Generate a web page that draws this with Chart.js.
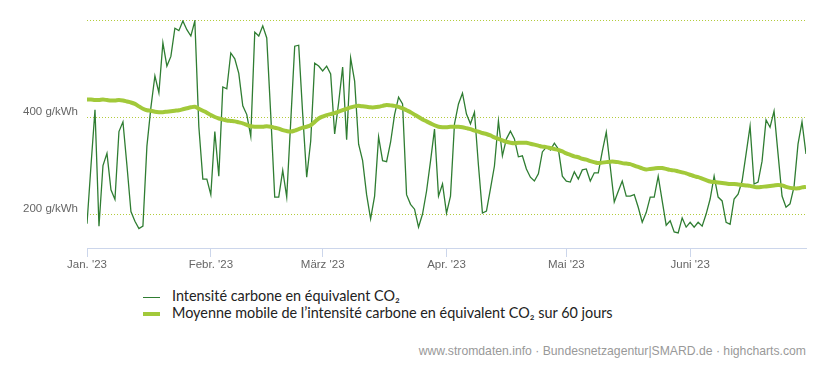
<!DOCTYPE html>
<html>
<head>
<meta charset="utf-8">
<script src="https://cdn.jsdelivr.net/npm/chart.js@4"></script>
<style>
  body { margin: 0; background: #fff; }
  #wrap { position: relative; width: 825px; height: 365px; }
  #graph { position: absolute; left: 0; top: 0; }
  #legend { position: absolute; left: 143px; top: 287px; font-family: Lato, sans-serif; font-size: 14.4px; color: #222; }
  .item { height: 17px; line-height: 17px; white-space: nowrap; }
  .sym { display: inline-block; width: 17px; vertical-align: middle; margin-right: 12px; }
  #credits { position: absolute; right: 19px; top: 344px; font-family: "Liberation Sans", sans-serif; font-size: 12.2px; color: #999; }
</style>
</head>
<body>
<div id="wrap">
  <canvas id="graph" width="825" height="272"></canvas>
  <div id="legend"></div>
  <div id="credits">www.stromdaten.info · Bundesnetzagentur|SMARD.de · highcharts.com</div>
</div>
<script>
// jours depuis le 1er janvier 2023 (0 = 1 janv., 180 = 30 juin)
const monthTicks = [0, 31, 59, 90, 120, 151]
const monthLabels = ["Jan. '23", "Febr. '23", "März '23", "Apr. '23", "Mai '23", "Juni '23"]
const yTicks = [200, 400, 600]
const seriesNames = ['Intensité carbone en équivalent CO₂', 'Moyenne mobile de l’intensité carbone en équivalent CO₂ sur 60 jours']

// g/kWh, une valeur par jour
const intensity = [
  180, 300, 415, 175, 300, 325, 250, 230, 370, 390, 300, 205, 185, 170, 175, 340, 420, 485, 450, 553,
  505, 525, 583, 578, 598, 580, 567, 598, 380, 272, 272, 240, 370, 278, 462, 458, 532, 520, 490, 423,
  405, 360, 575, 567, 588, 563, 405, 235, 235, 290, 235, 390, 546, 548, 406, 276, 350, 511, 505, 495,
  505, 489, 365, 430, 503, 353, 522, 474, 344, 310, 240, 190, 237, 359, 310, 308, 348, 405, 441, 427,
  240, 220, 210, 173, 200, 247, 309, 375, 237, 262, 202, 237, 386, 427, 449, 406, 386, 410, 300, 202,
  206, 252, 299, 392, 320, 355, 371, 355, 318, 320, 293, 276, 268, 283, 328, 338, 332, 346, 334, 278,
  268, 266, 287, 272, 291, 293, 268, 285, 285, 329, 369, 297, 225, 247, 268, 237, 237, 240, 214, 183,
  203, 235, 235, 278, 227, 177, 186, 163, 161, 192, 173, 183, 173, 183, 175, 200, 231, 278, 235, 227,
  183, 179, 231, 241, 268, 324, 381, 262, 266, 309, 394, 379, 412, 324, 237, 214, 221, 256, 344, 390,
  324
]

const movingAvg = [
  436, 436, 435, 435, 436, 435, 434, 434, 435, 434, 432, 430, 427, 422, 417, 414, 413, 411, 410, 410,
  411, 412, 413, 414, 416, 418, 420, 421, 417, 413, 409, 404, 400, 397, 395, 393, 392, 391, 389, 387,
  384, 381, 380, 380, 380, 381, 380, 378, 376, 373, 371, 370, 372, 375, 378, 380, 383, 390, 397, 401,
  404, 406, 408, 411, 414, 417, 420, 422, 423, 422, 421, 420, 420, 421, 423, 425, 424, 423, 421, 418,
  414, 410, 405, 400, 395, 391, 387, 383, 380, 379, 379, 380, 380, 380, 379, 377, 375, 372, 370, 367,
  365, 362, 358, 355, 352, 349, 347, 346, 347, 347, 347, 345, 343, 341, 339, 338, 336, 334, 332, 329,
  325, 322, 319, 317, 314, 312, 309, 307, 305, 306, 307, 308, 308, 307, 305, 304, 303, 300, 297, 294,
  292, 293, 294, 295, 295, 293, 291, 290, 288, 286, 284, 281, 278, 276, 273, 270, 267, 266, 265, 264,
  263, 262, 262, 261, 260, 259, 258, 256, 255, 256, 257, 258, 259, 260, 259, 256, 254, 253, 253, 255,
  256
]

const colors = ['#2f7d32', '#a2c93a']
const widths = [1.3, 4]

new Chart(document.querySelector('#graph'), {
  type: 'line',
  data: {
    datasets: [
      {
        label: seriesNames[1],
        data: movingAvg.map((v, i) => ({ x: i, y: v })),
        borderColor: colors[1],
        borderWidth: widths[1],
        pointRadius: 0,
        tension: 0.3,
        order: 0
      },
      {
        label: seriesNames[0],
        data: intensity.map((v, i) => ({ x: i, y: v })),
        borderColor: colors[0],
        borderWidth: widths[0],
        pointRadius: 0,
        tension: 0,
        order: 1
      }
    ]
  },
  options: {
    responsive: false,
    animation: false,
    layout: { padding: { top: 20, right: 19, left: 0, bottom: 0 } },
    plugins: { legend: { display: false }, tooltip: { enabled: false } },
    scales: {
      x: {
        type: 'linear',
        min: 0,
        max: 180,
        afterBuildTicks: axis => { axis.ticks = monthTicks.map(v => ({ value: v })) },
        afterFit: axis => { axis.height = 24 },
        border: { color: '#ccd6eb' },
        grid: { drawOnChartArea: false, drawTicks: true, tickLength: 9, color: '#ccd6eb' },
        ticks: {
          autoSkip: false,
          maxRotation: 0,
          padding: 1,
          color: '#666',
          font: { family: 'Liberation Sans', size: 11.5 },
          callback: v => monthLabels[monthTicks.indexOf(v)]
        }
      },
      y: {
        min: 130,
        max: 600,
        afterBuildTicks: axis => { axis.ticks = yTicks.map(v => ({ value: v })) },
        afterFit: axis => { axis.width = 87 },
        border: { display: false, dash: [1, 2] },
        grid: { color: '#b3cc3c', lineWidth: 1, drawTicks: false },
        ticks: {
          padding: 9,
          labelOffset: -5,
          color: '#666',
          font: { family: 'Liberation Sans', size: 11.5 },
          callback: v => v === 600 ? '' : v + ' g/kWh'
        }
      }
    }
  }
})

// légende sous le graphique
const legend = document.querySelector('#legend')
seriesNames.forEach((name, i) => {
  const row = document.createElement('div')
  row.className = 'item'
  row.innerHTML = '<span class="sym" style="border-top:' + widths[i] + 'px solid ' + colors[i] + '"></span>' + name
  legend.appendChild(row)
})
</script>
</body>
</html>
